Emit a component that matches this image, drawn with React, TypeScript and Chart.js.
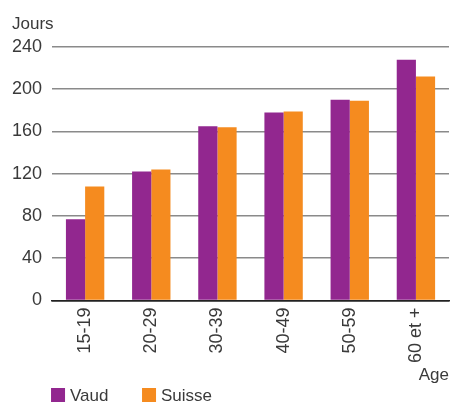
import React, { useEffect, useRef } from "react";
import { Chart, registerables } from "chart.js";

Chart.register(...registerables);

const categories = ["15-19", "20-29", "30-39", "40-49", "50-59", "60 et +"];
const vaudValues = [77, 122, 165, 178, 190, 228];
const suisseValues = [108, 124, 164, 179, 189, 212];
const seriesNames = ["Vaud", "Suisse"];
const seriesColors = ["#92278F", "#F58B1F"];
const yTitle = "Jours";
const xTitle = "Age";
const FONT = "'Liberation Sans', Arial, sans-serif";
const TEXT = "#3a3a3a";

const extrasPlugin = {
  id: "extras",
  afterDraw(chart: any) {
    const { ctx, chartArea } = chart;
    ctx.save();
    ctx.fillStyle = TEXT;
    ctx.font = `17px ${FONT}`;
    ctx.textBaseline = "alphabetic";
    ctx.textAlign = "left";
    ctx.fillText(yTitle, 12, 29);
    ctx.textAlign = "right";
    ctx.fillText(xTitle, chartArea.right, 380);
    // legend
    let x = chartArea.left - 1;
    const boxY = 388;
    chart.data.datasets.forEach((ds: any) => {
      ctx.fillStyle = ds.backgroundColor;
      ctx.fillRect(x, boxY, 14, 14);
      ctx.fillStyle = TEXT;
      ctx.textAlign = "left";
      ctx.fillText(ds.label, x + 19, 401);
      x += 91;
    });
    ctx.restore();
  },
};

export default function App() {
  const ref = useRef<HTMLCanvasElement | null>(null);
  useEffect(() => {
    if (!ref.current) return;
    const chart = new Chart(ref.current, {
      type: "bar",
      data: {
        labels: categories,
        datasets: [
          { label: seriesNames[0], data: vaudValues, backgroundColor: seriesColors[0] },
          { label: seriesNames[1], data: suisseValues, backgroundColor: seriesColors[1] },
        ],
      },
      options: {
        animation: false,
        responsive: true,
        maintainAspectRatio: false,
        layout: { padding: { left: 2, right: 2, top: 47, bottom: 33 } },
        datasets: { bar: { categoryPercentage: 0.58, barPercentage: 1.0 } },
        plugins: { legend: { display: false }, tooltip: { enabled: false } },
        scales: {
          x: {
            grid: { display: false, drawTicks: false },
            border: { display: true, color: "#222", width: 1.5 },
            ticks: {
              color: TEXT,
              font: { family: FONT, size: 18 },
              maxRotation: 90,
              minRotation: 90,
              padding: 7,
            },
          },
          y: {
            min: 0,
            max: 240,
            border: { display: false },
            grid: {
              drawTicks: false,
              lineWidth: 1.5,
              color: (c: any) => (c.tick && c.tick.value === 0 ? "#222" : "#8a8a8a"),
            },
            ticks: {
              stepSize: 40,
              color: TEXT,
              font: { family: FONT, size: 18 },
              padding: 10,
            },
          },
        },
      },
      plugins: [extrasPlugin],
    });
    return () => chart.destroy();
  }, []);
  return (
    <div style={{ position: "fixed", left: 0, top: 0, width: 451, height: 403, background: "#fff" }}>
      <canvas ref={ref} />
    </div>
  );
}
